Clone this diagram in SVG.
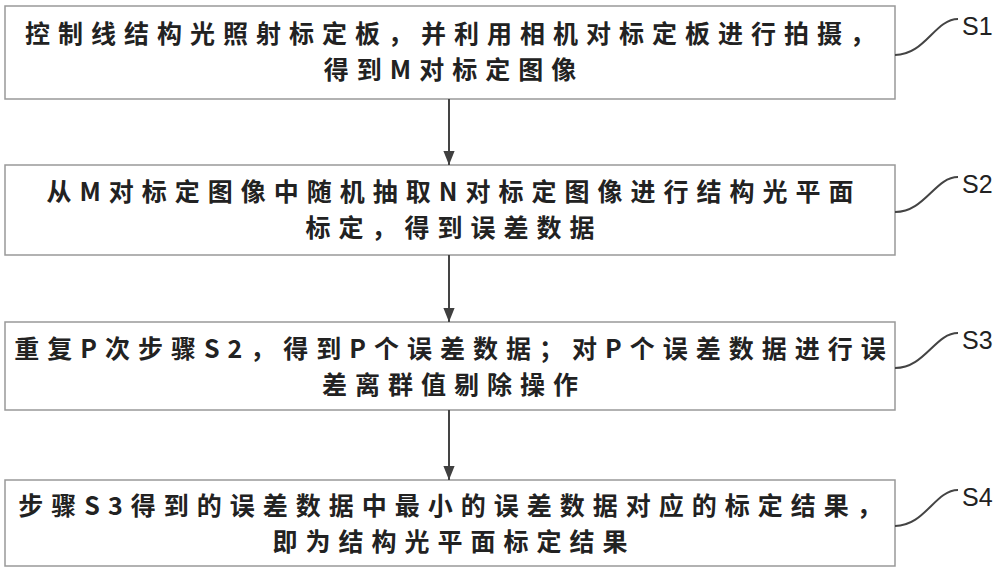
<svg xmlns="http://www.w3.org/2000/svg" width="1000" height="570" viewBox="0 0 1000 570">
<defs>
<marker id="ah" viewBox="0 0 10 10" refX="10" refY="5" markerWidth="14" markerHeight="14" orient="auto" markerUnits="userSpaceOnUse"><path d="M0,1 L10,5 L0,9 z" fill="#404040"/></marker>
<style>
.box{fill:#fff;stroke:#999;stroke-width:1.5}
.t{font-family:"Noto Sans CJK SC",sans-serif;font-size:25px;font-weight:bold;fill:#222;text-anchor:middle;letter-spacing:8px}
.s{font-family:"Liberation Sans",sans-serif;font-size:25px;fill:#222}
.c{fill:none;stroke:#444;stroke-width:2}
</style>
</defs>
<rect width="1000" height="570" fill="#fff"/>
<g id="S1"><rect class="box" x="5" y="6" width="890" height="93"/>
<text class="t" x="454" y="43">控制线结构光照射标定板，并利用相机对标定板进行拍摄，</text>
<text class="t" x="454" y="79">得到M对标定图像</text>
<path class="c" d="M895,55 C925,55 935,19 958,19"/><text class="s" x="962" y="35">S1</text></g>
<g id="S2"><rect class="box" x="5" y="165" width="890" height="90"/>
<text class="t" x="454" y="201">从M对标定图像中随机抽取N对标定图像进行结构光平面</text>
<text class="t" x="454" y="237">标定，得到误差数据</text>
<path class="c" d="M895,212 C925,212 935,177 958,177"/><text class="s" x="962" y="193">S2</text></g>
<g id="S3"><rect class="box" x="5" y="322" width="890" height="88"/>
<text class="t" x="454" y="358">重复P次步骤S2，得到P个误差数据；对P个误差数据进行误</text>
<text class="t" x="454" y="394">差离群值剔除操作</text>
<path class="c" d="M895,368 C925,368 935,333 958,333"/><text class="s" x="962" y="349">S3</text></g>
<g id="S4"><rect class="box" x="5" y="480" width="890" height="86"/>
<text class="t" x="454" y="515">步骤S3得到的误差数据中最小的误差数据对应的标定结果，</text>
<text class="t" x="454" y="551">即为结构光平面标定结果</text>
<path class="c" d="M895,526 C925,526 935,490 958,490"/><text class="s" x="962" y="506">S4</text></g>
<g id="connectors">
<line class="c" x1="449" y1="99" x2="449" y2="165" marker-end="url(#ah)"/>
<line class="c" x1="449" y1="255" x2="449" y2="322" marker-end="url(#ah)"/>
<line class="c" x1="449" y1="410" x2="449" y2="480" marker-end="url(#ah)"/>
</g>
</svg>
